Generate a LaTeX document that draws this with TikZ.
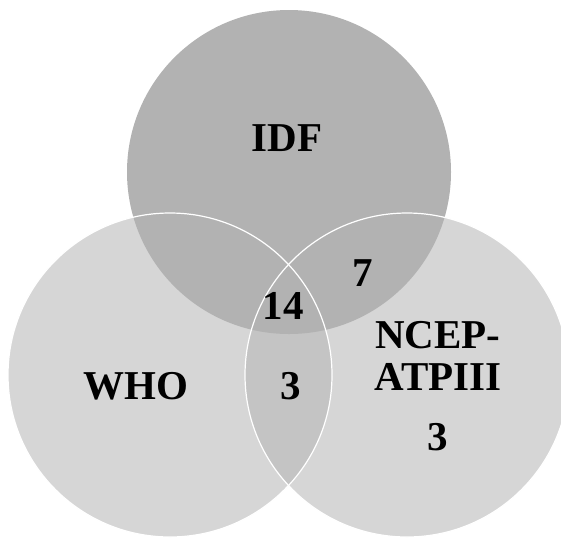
\documentclass[tikz,border=0pt]{standalone}
\usepackage{fontspec}
\setmainfont{Liberation Serif}
\definecolor{idfgray}{gray}{0.70}
\definecolor{sidegray}{gray}{0.84}
\definecolor{lensgray}{gray}{0.77}

\begin{document}
\begin{tikzpicture}[x=1pt, y=-1pt, lbl/.style={font=\fontsize{41}{42}\selectfont\bfseries, inner sep=0pt, align=center}]
		\useasboundingbox (0, 0) rectangle (561, 539);
		\clip (0, 0) rectangle (561, 539);

		% the three sets
		\fill[sidegray] (170, 375) circle (162);
		\fill[sidegray] (407, 375) circle (162);
		\begin{scope}
			\clip (170, 375) circle (162);
			\fill[lensgray] (407, 375) circle (162);
		\end{scope}
		\fill[idfgray] (289, 172) circle (162);
		\draw[white, line width=1.2pt] (170, 375) circle (162);
		\draw[white, line width=1.2pt] (407, 375) circle (162);

		% labels and counts
		\draw (287, 138) 	node[lbl] (idf) 	{IDF};
		\draw (136, 386) 	node[lbl] (who) 	{WHO};
		\draw (438, 356) 	node[lbl] (ncep) 	{NCEP-\\ATPIII};
		\draw (283, 306) 	node[lbl] (all) 	{14};
		\draw (363, 273) 	node[lbl] (idfncep) {7};
		\draw (291, 386) 	node[lbl] (whoncep) {3};
		\draw (438, 437) 	node[lbl] (ncepo) 	{3};
\end{tikzpicture}
\end{document}
